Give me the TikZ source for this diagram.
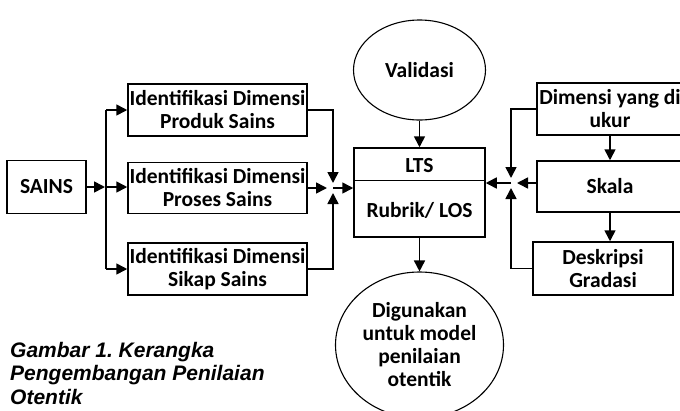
\documentclass[tikz,border=0pt]{standalone}
\usepackage{fontspec}
\setmainfont{Carlito}
\newfontfamily\capfont{Liberation Sans}
\usetikzlibrary{arrows.meta,shapes.geometric,calc}
\newcommand\bxfont{\fontsize{21.5}{23}\selectfont\bfseries}
\frenchspacing
\tikzset{
  arr/.style={-{Triangle[length=11pt,width=11pt]}, line width=1.6pt},
  bx/.style={draw, line width=1.5pt, inner sep=0pt, align=center, font=\bxfont},
  ell/.style={draw, ellipse, line width=1.1pt, inner sep=0pt, align=center, font=\bxfont},
  lbl/.style={inner sep=0pt, font=\bxfont},
}
\begin{document}
\begin{tikzpicture}[x=1pt,y=-1pt]
\useasboundingbox (0,0) rectangle (680,410);
\clip (0,0) rectangle (680,410);
% left column
\node[bx, minimum width=79pt, minimum height=53pt] (sains) at (46.5,187) {SAINS};
\node[bx, minimum width=179pt, minimum height=52pt] (id1) at (217.5,110) {Identifikasi Dimensi\\Produk Sains};
\node[bx, minimum width=179pt, minimum height=51pt] (id2) at (217.5,188) {Identifikasi Dimensi\\Proses Sains};
\node[bx, minimum width=179pt, minimum height=52pt] (id3) at (217.5,269) {Identifikasi Dimensi\\Sikap Sains};
% centre
\node[bx, minimum width=131pt, minimum height=89pt] (lts) at (419.5,192.5) {};
\draw[line width=1.5pt] ($(lts.north west)+(0,33)$) -- ($(lts.north east)+(0,33)$);
\node[lbl] (ltst) at (419.5,166) {LTS};
\node[lbl] (rub) at (419.5,210) {Rubrik/ LOS};
\node[ell, minimum width=132pt, minimum height=100pt] (valid) at (419.5,70) {Validasi};
\node[ell, minimum width=168pt, minimum height=146pt] (guna) at (419.5,345) {Digunakan\\untuk model\\penilaian\\otentik};
% right column
\node[bx, minimum width=146pt, minimum height=52pt] (dim) at (610,109) {Dimensi yang di\\ukur};
\node[bx, minimum width=146pt, minimum height=51pt] (skala) at (610,186.5) {Skala};
\node[bx, minimum width=140pt, minimum height=53pt] (desk) at (603,268.5) {Deskripsi\\Gradasi};
% caption
\node[anchor=north west, align=left, inner sep=0pt,
      font=\capfont\fontsize{21}{23.5}\selectfont\bfseries\itshape] (cap) at (10,342)
      {Gambar 1. Kerangka\\Pengembangan Penilaian\\Otentik};
% left connectors
\coordinate (JS) at (106,187);
\coordinate (s1) at (106,110);
\coordinate (s3) at (106,269);
\draw[arr] (sains.east |- JS) -- ($(JS)+(-1,0)$);
\draw[line width=1.6pt] (s1) -- (s3);
\draw[arr] (s1) -- (id1.west);
\draw[arr] (JS) -- (id2.west |- JS);
\draw[arr] (s3) -- (id3.west);
\coordinate (J1) at (333,188);
\draw[arr] (id1.east) -| ($(J1)+(0,-5)$);
\draw[arr] (id3.east) -| ($(J1)+(0,5)$);
\draw[arr] (id2.east) -- ($(J1)+(-6,0)$);
\draw[arr] (J1) -- (lts.west |- J1);
% right connectors
\coordinate (J2) at (511,183);
\draw[arr] (dim.west) -| ($(J2)+(0,-5)$);
\draw[arr] (desk.west) -| ($(J2)+(0,5)$);
\draw[arr] (skala.west |- J2) -- ($(J2)+(6,0)$);
\draw[arr] (J2) -- (lts.east |- J2);
% vertical connectors
\draw[arr] (valid.south) -- (lts.north);
\draw[arr] (lts.south) -- (guna.north);
\draw[arr] (dim.south) -- (skala.north);
\draw[arr] (skala.south) -- (skala.south |- desk.north);
\end{tikzpicture}
\end{document}
